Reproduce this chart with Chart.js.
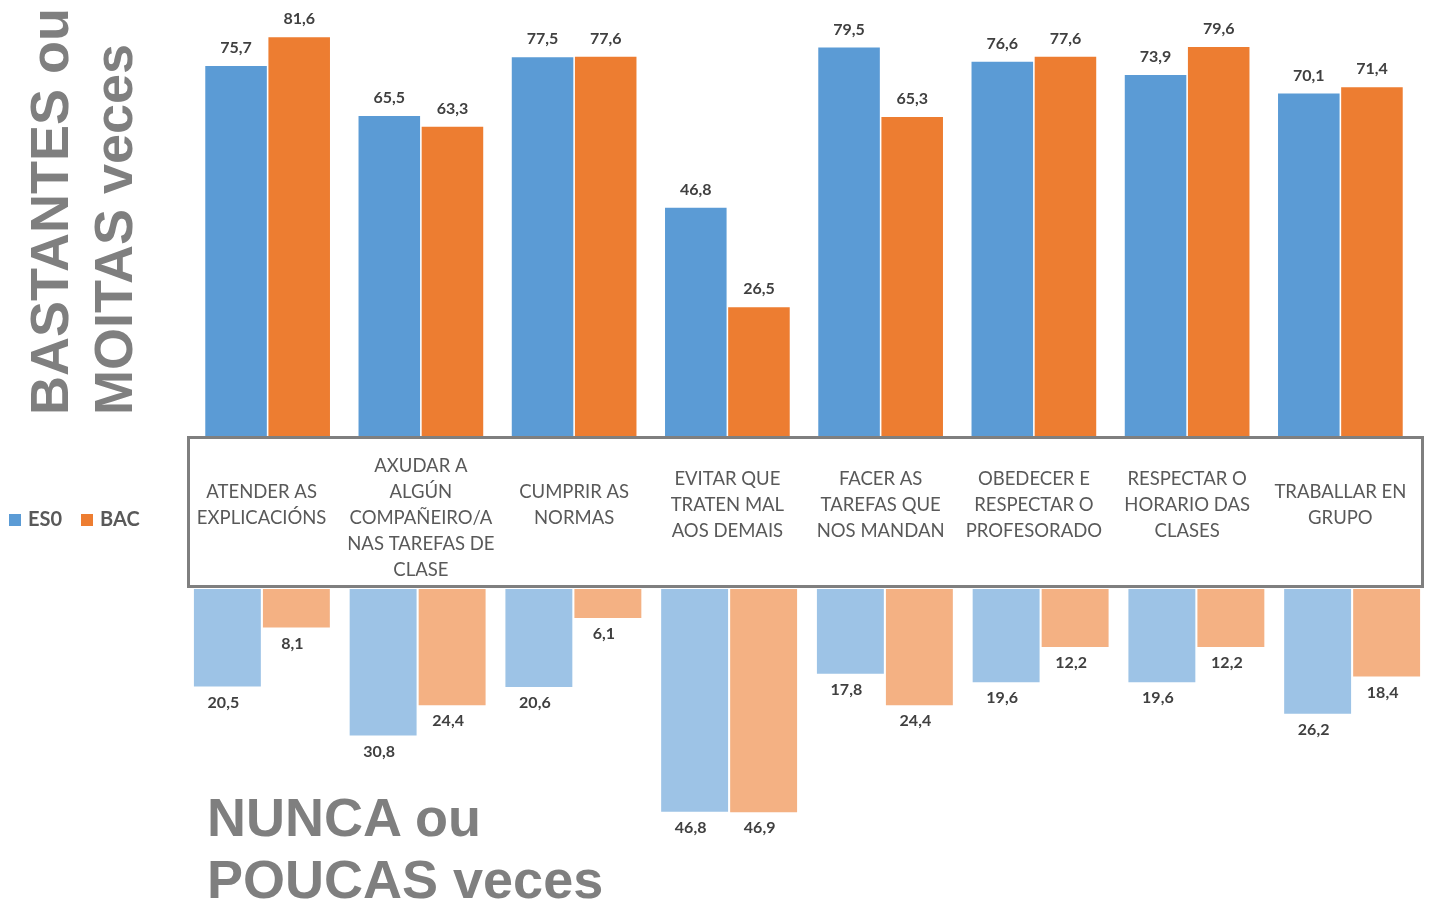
<!DOCTYPE html>
<html>
<head>
<meta charset="utf-8">
<script src="https://cdn.jsdelivr.net/npm/chart.js@4"></script>
<style>
  html, body { margin: 0; padding: 0; background: #ffffff; }
  body { width: 1431px; height: 903px; position: relative; overflow: hidden; }
  canvas { position: absolute; left: 0; }
  #topChart { top: 0; }
  #bottomChart { top: 589px; }
  .bigTitle { position: absolute; font-family: "Liberation Sans", Arial, sans-serif; font-weight: bold; color: #7f7f7f; white-space: nowrap; }
  #titleLeft { left: 0; top: 415px; transform-origin: 0 0; transform: rotate(-90deg); font-size: 54px; line-height: 64px; padding-top: 17px; }
  #titleBottom { left: 207px; top: 786px; font-size: 54px; line-height: 62px; }
  #legend { position: absolute; left: 9px; top: 506px; font-family: Lato, "Open Sans", sans-serif; font-weight: bold; font-size: 20px; color: #595959; white-space: nowrap; line-height: 24px; }
  #legend span.sw { display: inline-block; width: 12px; height: 12px; margin-right: 7px; vertical-align: 0px; }
  #legend span.item { margin-right: 19px; }
</style>
</head>
<body>
<canvas id="topChart" width="1431" height="592"></canvas>
<canvas id="bottomChart" width="1431" height="314"></canvas>
<div id="titleLeft" class="bigTitle">BASTANTES ou<br>MOITAS veces</div>
<div id="titleBottom" class="bigTitle">NUNCA ou<br>POUCAS veces</div>
<div id="legend"></div>
<script>
// ---- data ----
const categories = [
  ["ATENDER AS", "EXPLICACIÓNS"],
  ["AXUDAR A", "ALGÚN", "COMPAÑEIRO/A", "NAS TAREFAS DE", "CLASE"],
  ["CUMPRIR AS", "NORMAS"],
  ["EVITAR QUE", "TRATEN MAL", "AOS DEMAIS"],
  ["FACER AS", "TAREFAS QUE", "NOS MANDAN"],
  ["OBEDECER E", "RESPECTAR O", "PROFESORADO"],
  ["RESPECTAR O", "HORARIO DAS", "CLASES"],
  ["TRABALLAR EN", "GRUPO"]
];
const seriesNames = ["ES0", "BAC"];
const esoOften = [75.7, 65.5, 77.5, 46.8, 79.5, 76.6, 73.9, 70.1];
const bacOften = [81.6, 63.3, 77.6, 26.5, 65.3, 77.6, 79.6, 71.4];
const esoRarely = [20.5, 30.8, 20.6, 46.8, 17.8, 19.6, 19.6, 26.2];
const bacRarely = [8.1, 24.4, 6.1, 46.9, 24.4, 12.2, 12.2, 18.4];

// ---- styles ----
const colEso = "#5B9BD5", colBac = "#ED7D31";
const colEsoLight = "#9DC3E6", colBacLight = "#F4B183";

// legend (HTML)
document.getElementById("legend").innerHTML =
  '<span class="item"><span class="sw" style="background:' + colEso + '"></span>' + seriesNames[0] + '</span>' +
  '<span><span class="sw" style="background:' + colBac + '"></span>' + seriesNames[1] + '</span>';

const fmt = v => v.toFixed(1).replace(".", ",");

function valueLabels(offsetY, offsetX) {
  return {
    id: "valueLabels",
    afterDatasetsDraw(chart) {
      const ctx = chart.ctx;
      ctx.save();
      ctx.font = "bold 16px Lato, 'Open Sans', sans-serif";
      ctx.fillStyle = "#404040";
      ctx.textAlign = "center";
      ctx.textBaseline = "middle";
      chart.data.datasets.forEach((ds, di) => {
        chart.getDatasetMeta(di).data.forEach((bar, i) => {
          ctx.fillText(fmt(ds.data[i]), bar.x + offsetX, bar.y + offsetY);
        });
      });
      ctx.restore();
    }
  };
}

const labelBox = {
  id: "labelBox",
  afterDraw(chart) {
    const ctx = chart.ctx;
    const xs = chart.scales.x;
    ctx.save();
    ctx.fillStyle = "#ffffff";
    ctx.fillRect(188.5, 437.5, 1234, 149);
    ctx.strokeStyle = "#7f7f7f";
    ctx.lineWidth = 3;
    ctx.strokeRect(188.5, 437.5, 1234, 149);
    ctx.font = "18.5px Lato, 'Open Sans', sans-serif";
    ctx.fillStyle = "#595959";
    ctx.textAlign = "center";
    ctx.textBaseline = "middle";
    categories.forEach((lines, i) => {
      const x = xs.getPixelForValue(i) - (i === 0 ? 6 : 0);
      const n = lines.length;
      const y0 = Math.max(466, 505 - (n - 1) * 13);
      lines.forEach((t, k) => ctx.fillText(t, x, y0 + k * 26));
    });
    ctx.restore();
  }
};

const labelsIdx = categories.map(c => c.join(" "));

new Chart(document.getElementById("topChart"), {
  type: "bar",
  data: {
    labels: labelsIdx,
    datasets: [
      { label: seriesNames[0], data: esoOften, backgroundColor: colEso },
      { label: seriesNames[1], data: bacOften, backgroundColor: colBac }
    ]
  },
  options: {
    responsive: false,
    animation: false,
    devicePixelRatio: 1,
    layout: { padding: { left: 191, right: 14, top: 0, bottom: 155 } },
    plugins: { legend: { display: false }, tooltip: { enabled: false } },
    datasets: { bar: { categoryPercentage: 0.824, barPercentage: 0.975 } },
    scales: {
      x: { display: false },
      y: { display: false, min: 0, max: 437 / 4.9 }
    }
  },
  plugins: [valueLabels(-18, 0), labelBox]
});

new Chart(document.getElementById("bottomChart"), {
  type: "bar",
  data: {
    labels: labelsIdx,
    datasets: [
      { label: seriesNames[0], data: esoRarely, backgroundColor: colEsoLight },
      { label: seriesNames[1], data: bacRarely, backgroundColor: colBacLight }
    ]
  },
  options: {
    responsive: false,
    animation: false,
    devicePixelRatio: 1,
    layout: { padding: { left: 184, right: 1, top: 0, bottom: 0 } },
    plugins: { legend: { display: false }, tooltip: { enabled: false } },
    datasets: { bar: { categoryPercentage: 0.886, barPercentage: 0.97 } },
    scales: {
      x: { display: false },
      y: { display: false, reverse: true, min: 0, max: 314 / 4.76 }
    }
  },
  plugins: [valueLabels(16, -4)]
});
</script>
</body>
</html>
